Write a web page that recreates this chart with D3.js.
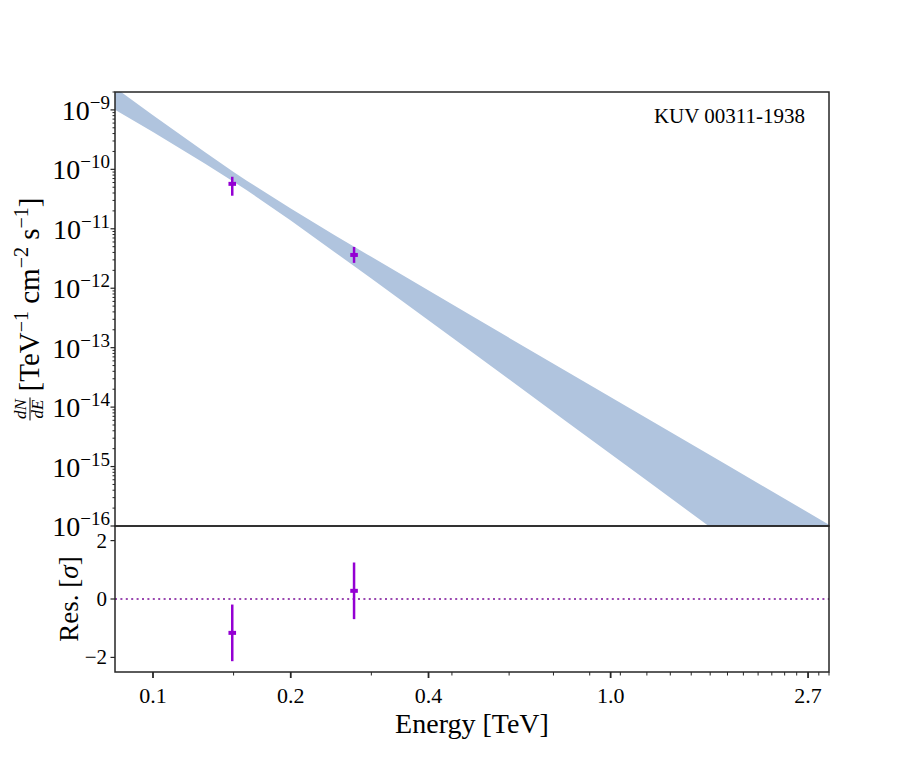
<!DOCTYPE html>
<html>
<head>
<meta charset="utf-8">
<script src="https://cdn.jsdelivr.net/npm/d3@7"></script>
<style>
  body { margin: 0; background: #fff; }
  svg { font-family: "Liberation Serif", "DejaVu Serif", serif; }
</style>
</head>
<body>
<svg id="chart" width="922" height="768"></svg>
<script>
'use strict'

// flux points (TeV, TeV^-1 cm^-2 s^-1)
const pointEnergy = [0.149, 0.275]
const pointFlux = [5.7e-11, 3.63e-12]
const pointFluxLo = [3.6e-11, 2.67e-12]
const pointFluxHi = [7.5e-11, 4.95e-12]

// residuals in sigma
const residual = [-1.16, 0.28]
const residualErr = [0.97, 0.97]

// model butterfly
const bandEnergy = [0.0826, 0.1, 0.13, 0.15, 0.16, 0.2, 0.25, 0.3, 0.5, 0.8, 1.2, 1.8, 2.4, 3.0]
const bandUpper = [2.37e-9, 8.15e-10, 1.93e-10, 9.0e-11, 6.5e-11, 2.19e-11, 7.7e-12, 3.37e-12, 3.33e-13, 4.0e-14, 6.5e-15, 1.05e-15, 2.88e-16, 1.05e-16]
const bandLower = [1.01e-9, 4.23e-10, 1.24e-10, 6.2e-11, 4.5e-11, 1.38e-11, 4.0e-12, 1.46e-12, 8.2e-14, 5.75e-15, 5.8e-16, 5.85e-17, 1.15e-17, 3.2e-18]

// axis ticks
const xMajorTicks = [0.1, 0.2, 0.4, 1.0, 2.7]
const xMajorLabels = ['0.1', '0.2', '0.4', '1.0', '2.7']
const xMinorTicks = [0.15, 0.3, 0.45, 0.6, 0.75, 0.9, 1.05, 1.2, 1.35, 1.5, 1.65, 1.8, 1.95, 2.1, 2.25, 2.4, 2.55, 2.85, 3.0]
const resTicks = [-2, 0, 2]
const sourceName = 'KUV 00311-1938'

const VIOLET = '#9400d3'
const BAND = '#b0c4de'
const AXIS = '#262626'

const pLeft = 115, pRight = 829, pTop = 92, pMid = 526, pBottom = 672

const svg = d3.select('#chart')

const x = d3.scaleLog().domain([0.0826, 3.0]).range([pLeft, pRight])
const y = d3.scaleLog().domain([1e-16, 2.0e-9]).range([pMid, pTop])
const yRes = d3.scaleLinear().domain([-2.5, 2.5]).range([pBottom, pMid])

svg.append('defs').append('clipPath').attr('id', 'mainClip')
  .append('rect')
  .attr('x', pLeft).attr('y', pTop)
  .attr('width', pRight - pLeft).attr('height', pMid - pTop)

// butterfly
const band = bandEnergy.map((e, i) => ({e, lo: bandLower[i], hi: bandUpper[i]}))
svg.append('path')
  .datum(band)
  .attr('clip-path', 'url(#mainClip)')
  .attr('fill', BAND)
  .attr('d', d3.area()
    .x(d => x(d.e))
    .y0(d => y(d.lo))
    .y1(d => y(d.hi)))

// flux points
const pts = pointEnergy.map((e, i) => ({e, f: pointFlux[i], lo: pointFluxLo[i], hi: pointFluxHi[i]}))
const pg = svg.append('g').attr('class', 'points')
pg.selectAll('line').data(pts).enter().append('line')
  .attr('x1', d => x(d.e)).attr('x2', d => x(d.e))
  .attr('y1', d => y(d.lo)).attr('y2', d => y(d.hi))
  .attr('stroke', VIOLET).attr('stroke-width', 2.5)
pg.selectAll('rect').data(pts).enter().append('rect')
  .attr('x', d => x(d.e) - 3.8).attr('y', d => y(d.f) - 2)
  .attr('width', 7.6).attr('height', 4)
  .attr('fill', VIOLET)

// residual zero line
svg.append('line')
  .attr('x1', pLeft).attr('x2', pRight)
  .attr('y1', yRes(0)).attr('y2', yRes(0))
  .attr('stroke', '#9a48b0').attr('stroke-width', 2)
  .attr('stroke-dasharray', '2,3.4')

// residual points
const res = pointEnergy.map((e, i) => ({e, r: residual[i], err: residualErr[i]}))
const rg = svg.append('g').attr('class', 'residuals')
rg.selectAll('line').data(res).enter().append('line')
  .attr('x1', d => x(d.e)).attr('x2', d => x(d.e))
  .attr('y1', d => yRes(d.r - d.err)).attr('y2', d => yRes(d.r + d.err))
  .attr('stroke', VIOLET).attr('stroke-width', 2.5)
rg.selectAll('rect').data(res).enter().append('rect')
  .attr('x', d => x(d.e) - 3.8).attr('y', d => yRes(d.r) - 2)
  .attr('width', 7.6).attr('height', 4)
  .attr('fill', VIOLET)

// frames
svg.append('rect')
  .attr('x', pLeft).attr('y', pTop)
  .attr('width', pRight - pLeft).attr('height', pMid - pTop)
  .attr('fill', 'none').attr('stroke', AXIS).attr('stroke-width', 1.5)
svg.append('rect')
  .attr('x', pLeft).attr('y', pMid)
  .attr('width', pRight - pLeft).attr('height', pBottom - pMid)
  .attr('fill', 'none').attr('stroke', AXIS).attr('stroke-width', 1.5)

// main y axis
const yAll = y.ticks()
const yMajor = yAll.filter(v => Math.abs(Math.log10(v) - Math.round(Math.log10(v))) < 1e-6)
const yMinor = yAll.filter(v => !yMajor.includes(v))
const ya = svg.append('g').attr('class', 'y-axis')
ya.selectAll('line.minor').data(yMinor).enter().append('line')
  .attr('class', 'minor')
  .attr('x1', pLeft - 2.5).attr('x2', pLeft)
  .attr('y1', d => y(d)).attr('y2', d => y(d))
  .attr('stroke', AXIS).attr('stroke-width', 1)
ya.selectAll('line.major').data(yMajor).enter().append('line')
  .attr('class', 'major')
  .attr('x1', pLeft - 4.5).attr('x2', pLeft)
  .attr('y1', d => y(d)).attr('y2', d => y(d))
  .attr('stroke', AXIS).attr('stroke-width', 1.2)
const yl = ya.selectAll('text').data(yMajor).enter().append('text')
  .attr('x', pLeft - 5).attr('y', d => y(d) + 10)
  .attr('text-anchor', 'end')
  .attr('fill', '#000')
yl.append('tspan').attr('font-size', 28).text('10')
yl.append('tspan').attr('font-size', 19).attr('dy', -11)
  .text(d => '\u2212' + Math.abs(Math.round(Math.log10(d))))

// residual y axis
const ra = svg.append('g').attr('class', 'res-axis')
ra.selectAll('line').data(resTicks).enter().append('line')
  .attr('x1', pLeft - 4.5).attr('x2', pLeft)
  .attr('y1', d => yRes(d)).attr('y2', d => yRes(d))
  .attr('stroke', AXIS).attr('stroke-width', 1.2)
ra.selectAll('text').data(resTicks).enter().append('text')
  .attr('x', pLeft - 8).attr('y', d => yRes(d) + 7)
  .attr('text-anchor', 'end')
  .attr('font-size', 21)
  .text(d => d < 0 ? '\u2212' + Math.abs(d) : d)

// x axis (residual panel)
const xa = svg.append('g').attr('class', 'x-axis')
xa.selectAll('line.minor').data(xMinorTicks).enter().append('line')
  .attr('class', 'minor')
  .attr('x1', d => x(d)).attr('x2', d => x(d))
  .attr('y1', pBottom).attr('y2', pBottom + 3.5)
  .attr('stroke', AXIS).attr('stroke-width', 1)
xa.selectAll('line.major').data(xMajorTicks).enter().append('line')
  .attr('class', 'major')
  .attr('x1', d => x(d)).attr('x2', d => x(d))
  .attr('y1', pBottom).attr('y2', pBottom + 6)
  .attr('stroke', AXIS).attr('stroke-width', 1.8)
xa.selectAll('text').data(xMajorTicks).enter().append('text')
  .attr('x', d => x(d)).attr('y', 703)
  .attr('text-anchor', 'middle')
  .attr('font-size', 22)
  .text((d, i) => xMajorLabels[i])

svg.append('text')
  .attr('x', (pLeft + pRight) / 2).attr('y', 733)
  .attr('text-anchor', 'middle')
  .attr('font-size', 28)
  .text('Energy [TeV]')

// residual label
const resLab = svg.append('text')
  .attr('transform', `translate(78, ${(pMid + pBottom) / 2}) rotate(-90)`)
  .attr('text-anchor', 'middle')
  .attr('font-size', 27)
resLab.append('tspan').text('Res. [')
resLab.append('tspan').attr('font-style', 'italic').text('\u03c3')
resLab.append('tspan').text(']')

// main y label: dN/dE fraction + units
const lab = svg.append('g').attr('transform', 'rotate(-90)')
const units = lab.append('text').attr('font-size', 29).attr('y', 39)
units.append('tspan').text('[TeV')
units.append('tspan').attr('font-size', 20).attr('dy', -11).text('\u22121')
units.append('tspan').attr('dy', 11).text(' cm')
units.append('tspan').attr('font-size', 20).attr('dy', -11).text('\u22122')
units.append('tspan').attr('dy', 11).text(' s')
units.append('tspan').attr('font-size', 20).attr('dy', -11).text('\u22121')
units.append('tspan').attr('dy', 11).text(']')
const fracW = 23, gap = 6
const total = fracW + gap + units.node().getComputedTextLength()
const startY = (pTop + pMid) / 2 + total / 2
units.attr('x', -startY + fracW + gap)
const fc = -startY + fracW / 2
lab.append('text').attr('x', fc).attr('y', 25.5)
  .attr('text-anchor', 'middle').attr('font-size', 17).attr('font-style', 'italic')
  .text('dN')
lab.append('line')
  .attr('x1', fc - fracW / 2).attr('x2', fc + fracW / 2)
  .attr('y1', 30).attr('y2', 30)
  .attr('stroke', '#000').attr('stroke-width', 1)
lab.append('text').attr('x', fc).attr('y', 43)
  .attr('text-anchor', 'middle').attr('font-size', 17).attr('font-style', 'italic')
  .text('dE')

// source name
svg.append('text')
  .attr('x', 805).attr('y', 123)
  .attr('text-anchor', 'end')
  .attr('font-size', 21)
  .text(sourceName)
</script>
</body>
</html>
